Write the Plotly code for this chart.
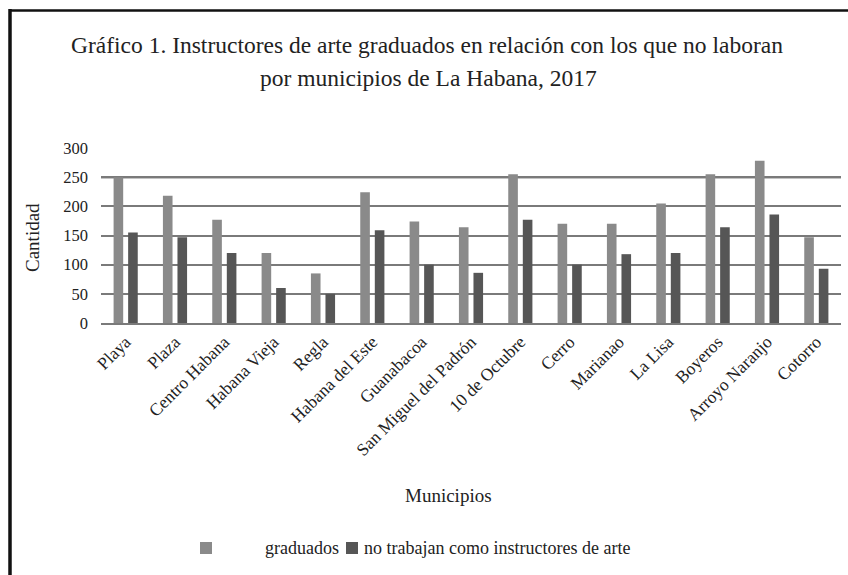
import plotly.graph_objects as go

municipios = ["Playa", "Plaza", "Centro Habana", "Habana Vieja", "Regla",
              "Habana del Este", "Guanabacoa", "San Miguel del Padrón",
              "10 de Octubre", "Cerro", "Marianao", "La Lisa", "Boyeros",
              "Arroyo Naranjo", "Cotorro"]
graduados = [250, 218, 177, 120, 85, 224, 174, 164, 255, 170, 170, 205, 255, 278, 147]
no_trabajan = [155, 147, 120, 60, 50, 159, 100, 86, 177, 100, 118, 120, 164, 186, 93]
y_ticks = [0, 50, 100, 150, 200, 250, 300]

W, H = 848, 575
L, R, T, B = 101, 841, 148, 323  # plot area in pixels


def px(x):
    return (x - L) / (R - L)


def py(y):
    return (B - y) / (B - T)


FONT = "Liberation Serif"
TXT = "#222222"
C1 = "#8a8a8a"
C2 = "#565656"

fig = go.Figure()
fig.add_bar(x=municipios, y=graduados, name="graduados", marker_color=C1,
            marker_line_width=0)
fig.add_bar(x=municipios, y=no_trabajan, name="no trabajan como instructores de arte",
            marker_color=C2, marker_line_width=0)

fig.update_layout(
    width=W, height=H,
    margin=dict(l=L, r=W - R, t=T, b=H - B),
    paper_bgcolor="white", plot_bgcolor="white",
    barmode="group", bargap=0.41, bargroupgap=0.34,
    showlegend=False,
    font=dict(family=FONT, color=TXT),
)
fig.update_xaxes(
    tickangle=-45, tickfont=dict(size=17.5, family=FONT, color=TXT),
    showline=True, linecolor="#7a7a7a", linewidth=1.5, showgrid=False,
    ticks="",
)
fig.update_yaxes(
    range=[0, 300], tickvals=y_ticks, ticktext=[str(v) for v in y_ticks],
    tickfont=dict(size=16.5, family=FONT, color=TXT),
    showgrid=True, gridcolor="#7a7a7a", gridwidth=1.5, zeroline=False,
    showline=False, ticklabelstandoff=12,
)

# darker gridline at 250
fig.add_shape(type="line", xref="paper", yref="y", x0=0, x1=1, y0=250, y1=250,
              line=dict(color="#111111", width=2), layer="below")

# frame (top and left edges visible)
fig.add_shape(type="line", xref="paper", yref="paper", x0=px(9), x1=px(W + 5),
              y0=py(10.5), y1=py(10.5), line=dict(color="#111111", width=2.5))
fig.add_shape(type="line", xref="paper", yref="paper", x0=px(10), x1=px(10),
              y0=py(9), y1=py(H + 5), line=dict(color="#111111", width=3.5))

ann = []
ann.append(dict(text="Gráfico 1. Instructores de arte graduados en relación con los que no laboran",
                x=px(427), y=py(45), xref="paper", yref="paper", showarrow=False,
                font=dict(size=23.5, family=FONT, color=TXT), xanchor="center", yanchor="middle"))
ann.append(dict(text="por municipios de La Habana, 2017",
                x=px(428), y=py(78), xref="paper", yref="paper", showarrow=False,
                font=dict(size=23.5, family=FONT, color=TXT), xanchor="center", yanchor="middle"))
ann.append(dict(text="Cantidad", x=px(32), y=py(238), xref="paper", yref="paper",
                showarrow=False, textangle=-90,
                font=dict(size=19, family=FONT, color=TXT), xanchor="center", yanchor="middle"))
ann.append(dict(text="Municipios", x=px(448), y=py(495), xref="paper", yref="paper",
                showarrow=False, font=dict(size=19, family=FONT, color=TXT),
                xanchor="center", yanchor="middle"))
ann.append(dict(text="graduados", x=px(263), y=py(548), xref="paper", yref="paper",
                showarrow=False, font=dict(size=18, family=FONT, color=TXT),
                xanchor="left", yanchor="middle"))
ann.append(dict(text="no trabajan como instructores de arte", x=px(362), y=py(548),
                xref="paper", yref="paper", showarrow=False,
                font=dict(size=18, family=FONT, color=TXT), xanchor="left", yanchor="middle"))
fig.update_layout(annotations=ann)

# legend swatches
fig.add_shape(type="rect", xref="paper", yref="paper", x0=px(200), x1=px(212),
              y0=py(554), y1=py(542), fillcolor=C1, line_width=0)
fig.add_shape(type="rect", xref="paper", yref="paper", x0=px(346), x1=px(358),
              y0=py(554), y1=py(542), fillcolor=C2, line_width=0)

fig.write_html("out.html")
